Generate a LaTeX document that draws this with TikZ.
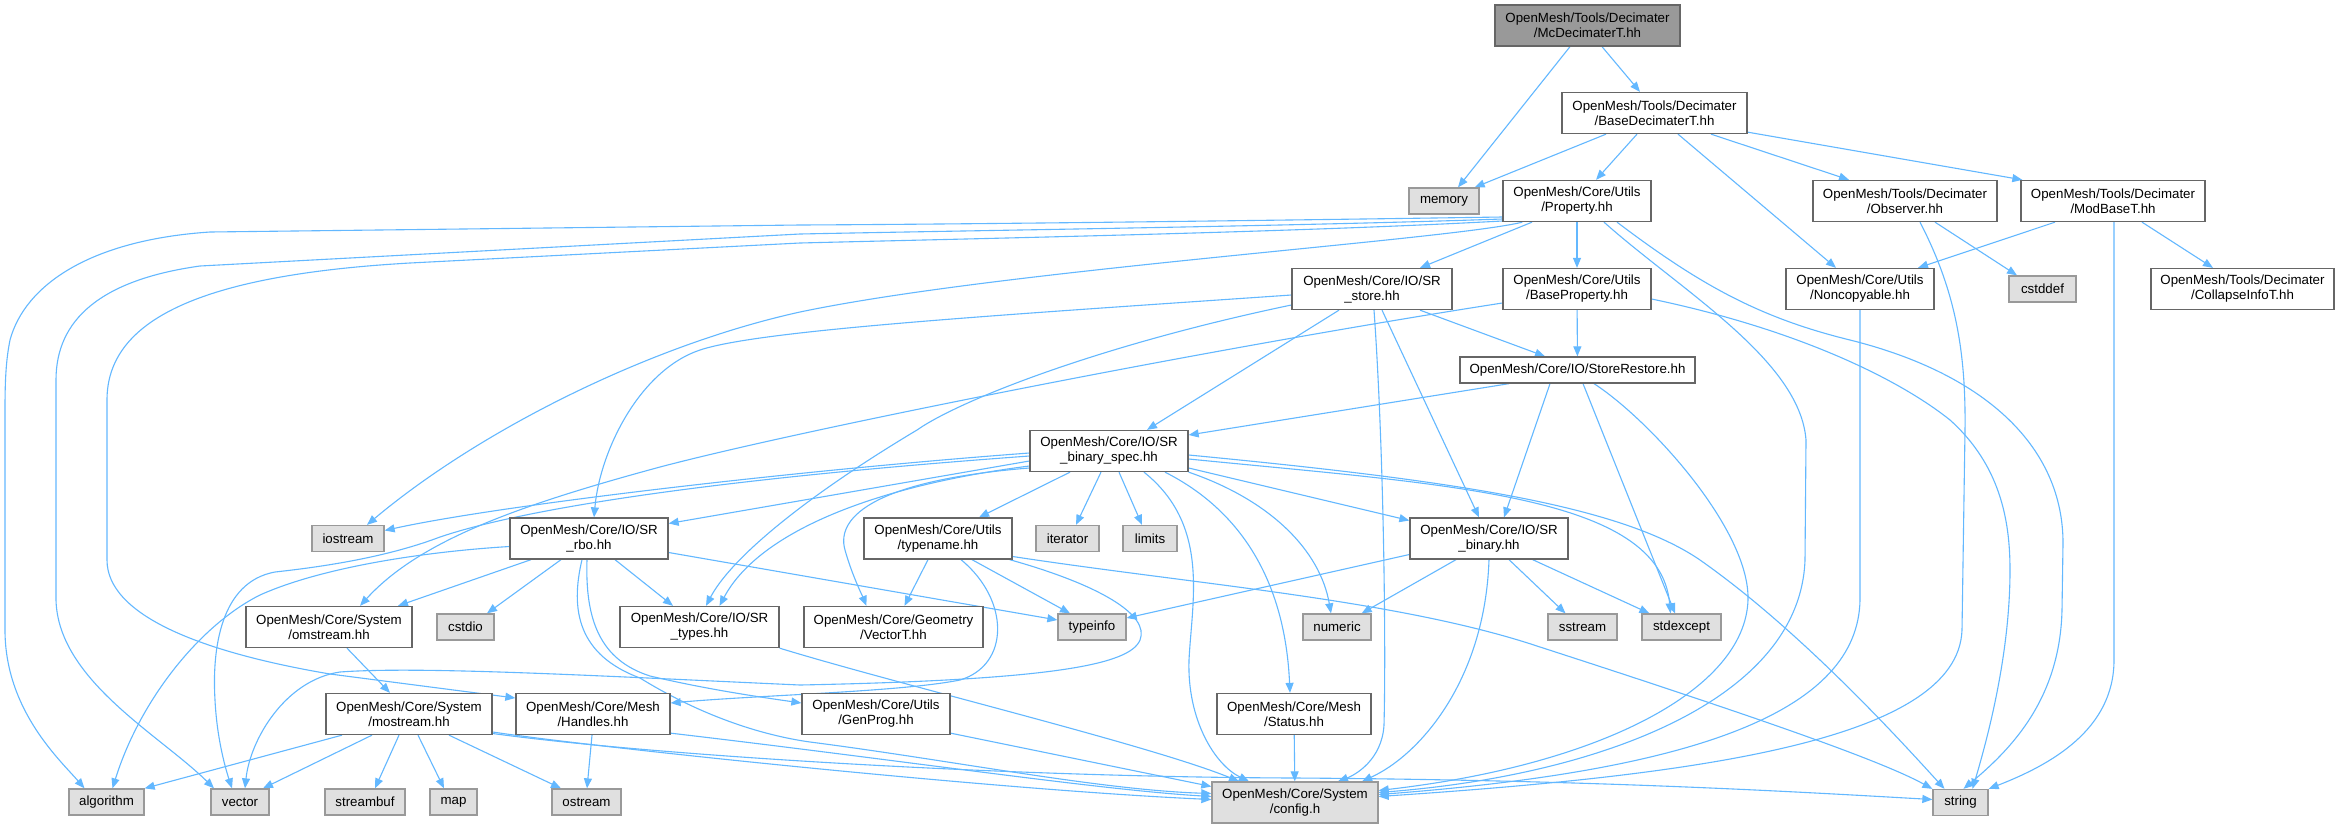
\documentclass[tikz,border=0pt]{standalone}
\usepackage{fontspec}
\setmainfont{Liberation Sans}
\usetikzlibrary{arrows.meta,calc}
\definecolor{edgec}{RGB}{99,184,255}
\definecolor{bint}{RGB}{102,102,102}
\definecolor{bext}{RGB}{153,153,153}
\definecolor{fext}{RGB}{224,224,224}
\definecolor{froot}{RGB}{153,153,153}
\pgfdeclarelayer{bg}
\pgfdeclarelayer{edges}
\pgfsetlayers{bg,edges,main}
\begin{document}
\begin{tikzpicture}[x=1pt,y=-1pt,
  box/.style={draw, line width=1.3pt, inner sep=0pt, align=center, font=\fontsize{13.3}{15}\selectfont, text=black},
  int/.style={box, draw=bint, fill=white},
  ext/.style={box, draw=bext, fill=fext},
  rootn/.style={box, draw=bint, fill=froot},
  two/.style={minimum height=41},
  one/.style={minimum height=26},
  e/.style={draw=edgec, line width=1.1pt, -{Triangle[length=10pt,width=8pt]}},
]
\useasboundingbox (0,0) rectangle (2340,828);
\begin{pgfonlayer}{bg}
\fill[white] (0,0) rectangle (2340,828);
\end{pgfonlayer}

% ---------- nodes ----------
\node[rootn,two,minimum width=185] (root) at (1587.5,25.5) {OpenMesh/Tools/Decimater\\/McDecimaterT.hh};
\node[int,two,minimum width=185] (bdt) at (1654.5,113) {OpenMesh/Tools/Decimater\\/BaseDecimaterT.hh};
\node[ext,one,minimum width=70] (memory) at (1444,201) {memory};
\node[int,two,minimum width=148] (prop) at (1577,201) {OpenMesh/Core/Utils\\/Property.hh};
\node[int,two,minimum width=184] (obs) at (1905,201) {OpenMesh/Tools/Decimater\\/Observer.hh};
\node[int,two,minimum width=184] (modbase) at (2113,201) {OpenMesh/Tools/Decimater\\/ModBaseT.hh};
\node[int,two,minimum width=160] (srstore) at (1372,289) {OpenMesh/Core/IO/SR\\\_store.hh};
\node[int,two,minimum width=148] (baseprop) at (1577,289) {OpenMesh/Core/Utils\\/BaseProperty.hh};
\node[int,two,minimum width=148] (noncop) at (1860,289) {OpenMesh/Core/Utils\\/Noncopyable.hh};
\node[ext,one,minimum width=67] (cstddef) at (2042.5,289) {cstddef};
\node[int,two,minimum width=183] (collapse) at (2242.5,289) {OpenMesh/Tools/Decimater\\/CollapseInfoT.hh};
\node[int,one,minimum width=235] (storerest) at (1577.5,370) {OpenMesh/Core/IO/StoreRestore.hh};
\node[int,two,minimum width=158] (spec) at (1109,451) {OpenMesh/Core/IO/SR\\\_binary\_spec.hh};
\node[ext,one,minimum width=72] (iostream) at (348,538.5) {iostream};
\node[int,two,minimum width=158] (rbo) at (589,538.5) {OpenMesh/Core/IO/SR\\\_rbo.hh};
\node[int,two,minimum width=148] (typename) at (938,538.5) {OpenMesh/Core/Utils\\/typename.hh};
\node[ext,one,minimum width=63] (iterator) at (1067.5,538.5) {iterator};
\node[ext,one,minimum width=54] (limits) at (1150,538.5) {limits};
\node[int,two,minimum width=158] (srbinary) at (1489,538.5) {OpenMesh/Core/IO/SR\\\_binary.hh};
\node[int,two,minimum width=166] (omstream) at (329,627) {OpenMesh/Core/System\\/omstream.hh};
\node[ext,one,minimum width=57] (cstdio) at (465.5,627) {cstdio};
\node[int,two,minimum width=159] (srtypes) at (699.5,627) {OpenMesh/Core/IO/SR\\\_types.hh};
\node[int,two,minimum width=179] (vectort) at (893.5,627) {OpenMesh/Core/Geometry\\/VectorT.hh};
\node[ext,one,minimum width=68] (typeinfo) at (1092,627) {typeinfo};
\node[ext,one,minimum width=68] (numeric) at (1337,627) {numeric};
\node[ext,one,minimum width=69] (sstream) at (1582.5,627) {sstream};
\node[ext,one,minimum width=79] (stdexcept) at (1681.5,627) {stdexcept};
\node[int,two,minimum width=166] (mostream) at (409,714) {OpenMesh/Core/System\\/mostream.hh};
\node[int,two,minimum width=154] (handles) at (593,714) {OpenMesh/Core/Mesh\\/Handles.hh};
\node[int,two,minimum width=148] (genprog) at (876,714) {OpenMesh/Core/Utils\\/GenProg.hh};
\node[int,two,minimum width=154] (status) at (1294,714) {OpenMesh/Core/Mesh\\/Status.hh};
\node[ext,one,minimum width=75] (algorithm) at (106.5,802) {algorithm};
\node[ext,one,minimum width=58] (vector) at (240,802) {vector};
\node[ext,one,minimum width=80] (streambuf) at (365,802) {streambuf};
\node[ext,one,minimum width=47] (map) at (453.5,802) {map};
\node[ext,one,minimum width=69] (ostream) at (586.5,802) {ostream};
\node[ext,two,minimum width=166] (config) at (1295,802.5) {OpenMesh/Core/System\\/config.h};
\node[ext,one,minimum width=55] (string) at (1960.5,802.5) {string};

% ---------- edges ----------
\begin{pgfonlayer}{edges}
% root
\draw[e] ($(root.south)+(-17.5,0)$) -- ($(memory.north)+(14,0)$);
\draw[e] ($(root.south)+(14.5,0)$) -- ($(bdt.north)+(-14.5,0)$);
% BaseDecimaterT
\draw[e] ($(bdt.south)+(-48.5,0)$) -- ($(memory.north east)+(-5,0)$);
\draw[e] ($(bdt.south)+(-17.5,0)$) -- ($(prop.north)+(19,0)$);
\draw[e] ($(bdt.south)+(23.5,0)$) -- ($(noncop.north)+(-24,0)$);
\draw[e] ($(bdt.south)+(56.5,0)$) -- ($(obs.north)+(-56,0)$);
\draw[e] ($(bdt.south east)+(0,-2)$) -- ($(modbase.north west)+(2,0)$);
% ModBaseT
\draw[e] ($(modbase.south)+(-58,0)$) -- ($(noncop.north)+(58,0)$);
\draw[e] ($(modbase.south)+(29,0)$) -- ($(collapse.north)+(-29.5,0)$);
\draw[e] ($(modbase.south)+(1,0)$) -- (2114,660) .. controls (2114,730) and (2050,765) .. (string.north east);
% Observer
\draw[e] ($(obs.south)+(30,0)$) -- ($(cstddef.north)+(-25.5,0)$);
\draw[e] ($(obs.south)+(15,0)$) .. controls (1955,290) and (1966,350) .. (1965,430) -- (1962,630) .. controls (1958,740) and (1700,775) .. ($(config.east)+(0,-6)$);
% Noncopyable
\draw[e] (noncop.south) -- (1860,600) .. controls (1858,710) and (1700,770) .. ($(config.east)+(0,-8)$);
% Property
\draw[e] ($(prop.south)+(-45,0)$) -- ($(srstore.north)+(48,0)$);
\draw[e] (prop) -- (baseprop);
\draw[e] ($(prop.south west)+(20,0)$) .. controls (1450,240) and (1000,270) .. (800,312) .. controls (650,345) and (480,430) .. ($(iostream.north)+(19,0)$);
\draw[e] ($(prop.west)+(0,16)$) .. controls (1300,220) and (1000,224) .. (800,225) -- (210,232) .. controls (90,240) and (25,285) .. (10,340) .. controls (6,360) and (5,380) .. (5,410) -- (5,630) .. controls (5,710) and (60,760) .. ($(algorithm.north)+(-22,0)$);
\draw[e] ($(prop.west)+(0,18)$) .. controls (1300,226) and (1000,230) .. (800,234) -- (200,266) .. controls (100,280) and (56,320) .. (56,380) -- (56,600) .. controls (58,680) and (160,735) .. ($(vector.north)+(-26,0)$);
\draw[e] ($(prop.west)+(0,20)$) .. controls (1300,232) and (1000,238) .. (800,243) -- (410,263) .. controls (200,275) and (107,320) .. (107,400) -- (107,560) .. controls (107,615) and (200,652) .. (330,674) -- ($(handles.west)+(0,-16)$);
\draw[e] ($(prop.south)+(27,0)$) .. controls (1680,290) and (1800,360) .. (1806,440) -- (1805,560) .. controls (1800,700) and (1600,775) .. ($(config.east)+(0,-10)$);
\draw[e] ($(prop.south)+(40,0)$) .. controls (1700,285) and (1760,318) .. (1850,340) .. controls (1990,375) and (2063,450) .. (2063,543) -- (2062,610) .. controls (2060,700) and (2010,750) .. ($(string.north)+(3,0)$);
% BaseProperty
\draw[e] (baseprop) -- (storerest);
\draw[e] ($(baseprop.west)+(0,14)$) .. controls (1200,350) and (800,430) .. (660,467) .. controls (520,505) and (420,540) .. ($(omstream.north)+(31,0)$);
\draw[e] ($(baseprop.east)+(0,10)$) .. controls (1800,330) and (1900,380) .. (1950,420) .. controls (2000,465) and (2010,520) .. (2010,570) .. controls (2010,650) and (1990,730) .. ($(string.north)+(12,0)$);
% StoreRestore
\draw[e] ($(storerest.south)+(-68.5,0)$) -- ($(spec.east)+(0,-16)$);
\draw[e] ($(storerest.south)+(-27.5,0)$) -- ($(srbinary.north)+(15,0)$);
\draw[e] ($(storerest.south)+(5.5,0)$) -- ($(stdexcept.north)+(-6.5,0)$);
\draw[e] ($(storerest.south)+(16.5,0)$) .. controls (1650,420) and (1750,530) .. (1748,600) .. controls (1745,690) and (1600,765) .. ($(config.east)+(0,-12)$);
% SR_store
\draw[e] ($(srstore.south)+(-33,0)$) -- ($(spec.north)+(38,0)$);
\draw[e] ($(srstore.south)+(2,0)$) .. controls (1384,450) and (1386,650) .. (1384,725) .. controls (1382,760) and (1355,775) .. ($(config.north)+(43,0)$);
\draw[e] ($(srstore.south)+(10,0)$) -- ($(srbinary.north)+(-10,0)$);
\draw[e] ($(srstore.south)+(48,0)$) -- ($(storerest.north)+(-32.5,0)$);
\draw[e] ($(srstore.west)+(0,6)$) .. controls (1000,315) and (760,330) .. (700,350) .. controls (640,370) and (600,450) .. ($(rbo.north)+(5,0)$);
\draw[e] ($(srstore.west)+(0,16)$) .. controls (1100,345) and (960,400) .. (917,430) .. controls (800,500) and (730,560) .. ($(srtypes.north)+(6.5,0)$);
% SR_binary_spec
\draw[e] ($(spec.south)+(-39,0)$) -- ($(typename.north)+(41,0)$);
\draw[e] ($(spec.south)+(-8,0)$) -- ($(iterator.north)+(8.5,0)$);
\draw[e] ($(spec.south)+(10,0)$) -- ($(limits.north)+(-8,0)$);
\draw[e] ($(spec.south)+(35,0)$) .. controls (1210,525) and (1192,600) .. (1189,660) .. controls (1187,720) and (1215,765) .. ($(config.north)+(-46,0)$);
\draw[e] ($(spec.south)+(56,0)$) .. controls (1240,510) and (1285,580) .. ($(status.north)+(-4,0)$);
\draw[e] (spec.south east) .. controls (1270,500) and (1320,550) .. ($(numeric.north)+(-6,0)$);
\draw[e] ($(spec.east)+(0,17)$) -- ($(srbinary.west)+(0,-18)$);
\draw[e] ($(spec.east)+(0,8)$) .. controls (1450,485) and (1660,495) .. ($(stdexcept.north)+(-11,0)$);
\draw[e] ($(spec.east)+(0,4)$) .. controls (1450,480) and (1620,505) .. (1700,560) .. controls (1800,630) and (1900,740) .. ($(string.north)+(-16,0)$);
\draw[e] ($(spec.west)+(0,2)$) .. controls (800,470) and (500,505) .. ($(iostream.east)+(0,-8)$);
\draw[e] ($(spec.west)+(0,10)$) -- ($(rbo.east)+(0,-15)$);
\draw[e] ($(spec.west)+(0,5)$) .. controls (700,480) and (520,510) .. (440,537) .. controls (390,556) and (330,566) .. (275,572) .. controls (220,582) and (212,650) .. (215,700) .. controls (217,740) and (226,770) .. ($(vector.north)+(-8,0)$);
\draw[e] ($(spec.west)+(0,15)$) .. controls (880,485) and (760,530) .. ($(srtypes.north)+(20,0)$);
\draw[e] ($(spec.west)+(0,17)$) .. controls (880,480) and (835,515) .. (845,550) .. controls (852,575) and (862,595) .. ($(vectort.north)+(-27,0)$);
% typename
\draw[e] ($(typename.south)+(-10,0)$) -- ($(vectort.north)+(11,0)$);
\draw[e] ($(typename.south)+(34,0)$) -- ($(typeinfo.north)+(-22,0)$);
\draw[e] ($(typename.south)+(23,0)$) .. controls (1010,600) and (1010,665) .. (960,680) .. controls (900,692) and (760,695) .. ($(handles.east)+(0,-11)$);
\draw[e] ($(typename.south east)+(-3,0)$) .. controls (1100,585) and (1150,615) .. (1140,640) .. controls (1130,665) and (1050,680) .. (800,685) .. controls (600,676) and (420,666) .. (340,672) .. controls (285,680) and (250,740) .. ($(vector.north)+(5,0)$);
\draw[e] ($(typename.east)+(0,18)$) .. controls (1200,585) and (1400,600) .. (1540,647) .. controls (1750,715) and (1880,760) .. (string.north west);
% SR_binary
\draw[e] ($(srbinary.west)+(0,16)$) -- ($(typeinfo.east)+(0,-9)$);
\draw[e] ($(srbinary.south)+(-33,0)$) -- ($(numeric.north east)+(-10,0)$);
\draw[e] (srbinary.south) .. controls (1485,680) and (1420,755) .. ($(config.north)+(67,0)$);
\draw[e] ($(srbinary.south)+(20,0)$) -- ($(sstream.north)+(-17,0)$);
\draw[e] ($(srbinary.south east)+(-36,0)$) -- ($(stdexcept.north west)+(8,0)$);
% SR_rbo
\draw[e] ($(rbo.south)+(-58,0)$) -- ($(omstream.north)+(69,0)$);
\draw[e] ($(rbo.south)+(-28,0)$) -- ($(cstdio.north)+(21.5,0)$);
\draw[e] ($(rbo.south)+(26,0)$) -- ($(srtypes.north)+(-26.5,0)$);
\draw[e] ($(rbo.east)+(0,14)$) -- ($(typeinfo.west)+(0,-7)$);
\draw[e] ($(rbo.west)+(0,8)$) .. controls (420,552) and (320,568) .. (260,595) .. controls (200,625) and (140,700) .. ($(algorithm.north)+(6,0)$);
\draw[e] ($(rbo.south)+(-7,0)$) .. controls (570,610) and (578,655) .. (640,678) .. controls (700,715) and (760,735) .. (810,742) .. controls (950,760) and (1100,790) .. ($(config.west)+(0,-9)$);
\draw[e] ($(rbo.south)+(-2,0)$) .. controls (585,620) and (600,660) .. (650,676) .. controls (710,690) and (760,697) .. ($(genprog.west)+(0,-11)$);
% SR_types
\draw[e] (srtypes.south east) .. controls (900,685) and (1150,745) .. ($(config.north)+(-56,0)$);
% omstream / mostream
\draw[e] ($(omstream.south)+(18,0)$) -- ($(mostream.north)+(-19,0)$);
\draw[e] ($(mostream.south)+(-67,0)$) -- (algorithm.north east);
\draw[e] ($(mostream.south)+(-37,0)$) -- ($(vector.north)+(23,0)$);
\draw[e] ($(mostream.south)+(-10,0)$) -- ($(streambuf.north)+(10,0)$);
\draw[e] ($(mostream.south)+(9,0)$) -- ($(map.north)+(-9.5,0)$);
\draw[e] ($(mostream.south)+(40,0)$) -- ($(ostream.north)+(-25.5,0)$);
\draw[e] ($(mostream.east)+(0,18)$) .. controls (600,748) and (1000,790) .. ($(config.west)+(0,-3)$);
\draw[e] ($(mostream.east)+(0,19.5)$) .. controls (650,755) and (1000,777) .. (1295,778) .. controls (1600,780) and (1800,792) .. ($(string.west)+(0,-3)$);
% Handles, GenProg, Status
\draw[e] ($(handles.south)+(-1,0)$) -- ($(ostream.north)+(0.5,0)$);
\draw[e] ($(handles.south east)+(0,-2)$) .. controls (900,760) and (1100,790) .. ($(config.west)+(0,-6)$);
\draw[e] ($(genprog.south east)+(0,-2)$) -- ($(config.west)+(0,-16)$);
\draw[e] (status) -- (config);
\end{pgfonlayer}
\end{tikzpicture}
\end{document}
